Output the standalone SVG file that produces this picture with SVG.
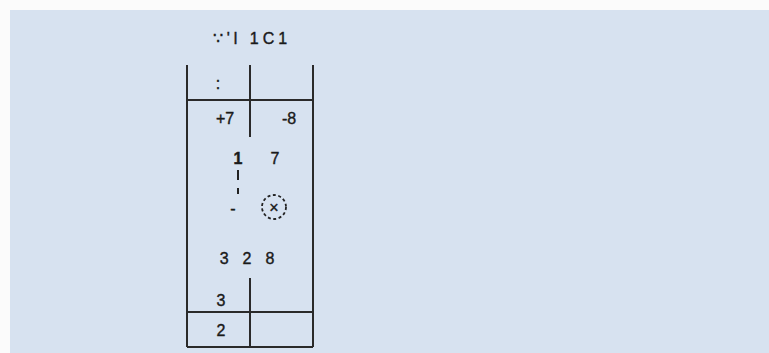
<svg xmlns="http://www.w3.org/2000/svg" width="769" height="353" viewBox="0 0 769 353">
<style>
.t{font-family:"Liberation Sans",Arial,sans-serif;font-size:16px;fill:#1a1a1a;text-anchor:middle;stroke:#1a1a1a;stroke-width:0.4}
.ln{stroke:#2a2a2a;stroke-width:2;fill:none}
</style>
<rect x="0" y="0" width="769" height="353" fill="#fbfbfb"/>
<rect x="10" y="10" width="759" height="343" fill="#d7e2f0"/>
<g id="title"><text class="t" x="252" y="44" style="letter-spacing:4px">∵'l 1C1</text></g>
<g id="table">
<path class="ln" d="M187 65V347M313 65V347M250 65V137M250 278V347M187 100H313M187 312H313M187 347H313"/>
</g>
<g id="cells">
<text class="t" x="218" y="89">:</text>
<text class="t" x="225" y="124">+7</text>
<text class="t" x="289" y="124">-8</text>
<text class="t" x="238" y="164" font-weight="bold">1</text>
<text class="t" x="275" y="164">7</text>
<path d="M238 170V180M238 188V194" stroke="#222" stroke-width="2"/>
<text class="t" x="233" y="214">-</text>
<g id="cross">
<circle cx="274" cy="207" r="12" fill="none" stroke="#222" stroke-width="1.8" stroke-dasharray="3 2.5"/>
<text class="t" x="274" y="213">×</text>
</g>
<text class="t" x="254" y="264" style="letter-spacing:14px">328</text>
<text class="t" x="221" y="306">3</text>
<text class="t" x="221" y="336">2</text>
</g>
</svg>
